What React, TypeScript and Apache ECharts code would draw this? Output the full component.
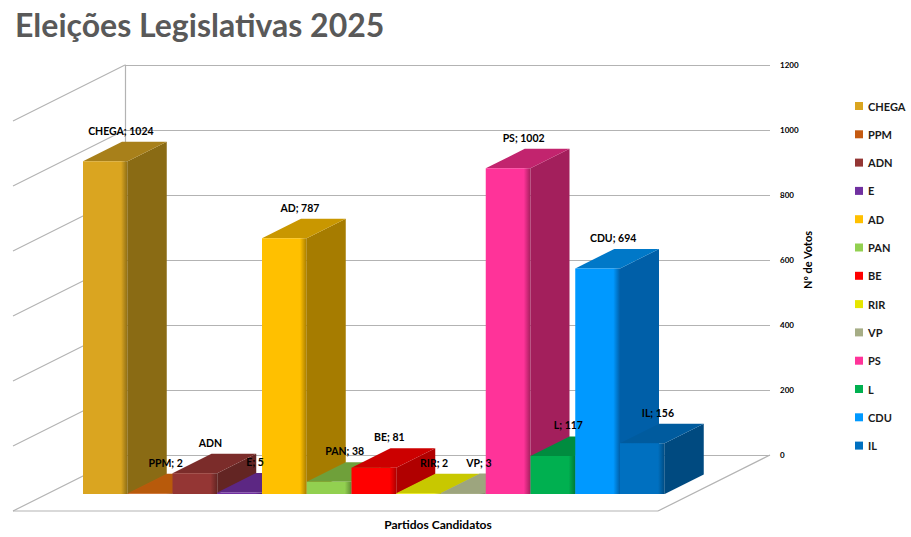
import React, { useEffect, useRef } from "react";
import * as echarts from "echarts";

const categories = ["CHEGA", "PPM", "ADN", "E", "AD", "PAN", "BE", "RIR", "VP", "PS", "L", "CDU", "IL"];
const votes = [1024, 2, 64, 5, 787, 38, 81, 2, 3, 1002, 117, 694, 156];
const showValue = [true, true, false, true, true, true, true, true, true, true, true, true, true];
const yTicks = [0, 200, 400, 600, 800, 1000, 1200];

const frontColors = ["#DAA520", "#C55A11", "#943634", "#7030A0", "#FFC000", "#92D050", "#FF0000", "#E6E600", "#A6AD86", "#FF3399", "#00B050", "#0099FF", "#0070C0"];
const sideColors = ["#8A6B14", "#8C3E08", "#632523", "#4B2069", "#A67C00", "#5F8A33", "#B00000", "#A3A300", "#858C69", "#A31F5C", "#007A37", "#005FA8", "#004A80"];
const topColors = ["#A8801A", "#B85A0B", "#7B2C2A", "#5C2783", "#C99700", "#6FA03A", "#CC0000", "#C8C800", "#9DA57E", "#C2246E", "#008C3F", "#0078C8", "#005B9E"];

const DX = 39;
const DY = -19.5;
const WDX = -112;
const WDY = 56;
const FONT = "Lato, 'Open Sans', sans-serif";

export default function App() {
  const ref = useRef<HTMLDivElement>(null);
  useEffect(() => {
    document.body.style.margin = "0";
    const chart = echarts.init(ref.current!, null, { renderer: "svg" });

    const barSeries = categories.map((name, i) => ({
      type: "custom",
      name,
      xAxisIndex: 1,
      yAxisIndex: 1,
      clip: false,
      z: 10 + i,
      itemStyle: { color: frontColors[i] },
      data: [[i, votes[i]]],
      renderItem: (params: any, api: any) => {
        const idx = api.value(0);
        const v = api.value(1);
        const p0 = api.coord([idx, 0]);
        const p1 = api.coord([idx, v]);
        const w = api.size([1, 0])[0];
        const xl = p0[0] - w / 2;
        const xr = p0[0] + w / 2;
        const yb = p0[1];
        const yt = p1[1];
        return {
          type: "group",
          children: [
            {
              type: "polygon",
              shape: { points: [[xr, yt], [xr + DX, yt + DY], [xr + DX, yb + DY], [xr, yb]] },
              style: { fill: sideColors[i] },
            },
            {
              type: "polygon",
              shape: { points: [[xl, yt], [xl + DX, yt + DY], [xr + DX, yt + DY], [xr, yt]] },
              style: { fill: topColors[i] },
            },
            {
              type: "polygon",
              shape: { points: [[xl, yt], [xr, yt], [xr, yb], [xl, yb]] },
              style: {
                fill: {
                  type: "linear", x: 0, y: 0, x2: 1, y2: 0,
                  colorStops: [
                    { offset: 0, color: frontColors[i] },
                    { offset: 0.85, color: frontColors[i] },
                    { offset: 1, color: sideColors[i] },
                  ],
                },
              },
            },
          ],
        };
      },
    }));

    const labelSeries = {
      type: "custom",
      name: "labels",
      xAxisIndex: 1,
      yAxisIndex: 1,
      clip: false,
      z: 50,
      data: categories.map((c, i) => [i, votes[i]]),
      renderItem: (params: any, api: any) => {
        const idx = api.value(0);
        const v = api.value(1);
        const p0 = api.coord([idx, 0]);
        const p1 = api.coord([idx, v]);
        const text = showValue[idx] ? categories[idx] + "; " + votes[idx] : categories[idx];
        return {
          type: "text",
          x: p0[0] + DX / 2 - 4,
          y: p1[1] + DY - 11,
          style: {
            text,
            fill: "#000",
            font: "bold 10.5px " + FONT,
            align: "center",
            verticalAlign: "middle",
          },
        };
      },
    };

    const wallSeries = {
      type: "custom",
      name: "walls",
      xAxisIndex: 0,
      yAxisIndex: 0,
      clip: false,
      z: 1,
      silent: true,
      data: yTicks.map((t) => [0, t]),
      renderItem: (params: any, api: any) => {
        const v = api.value(1);
        const a = api.coord([0, v]);
        const lineStyle = { stroke: "#B3B3B3", lineWidth: 1.2 };
        const children: any[] = [
          { type: "line", shape: { x1: a[0], y1: a[1], x2: a[0] + WDX, y2: a[1] + WDY }, style: lineStyle },
        ];
        if (v === 0) {
          const b = api.coord([1, 0]);
          children.push({ type: "line", shape: { x1: a[0] + WDX, y1: a[1] + WDY, x2: b[0] + WDX, y2: b[1] + WDY }, style: lineStyle });
          children.push({ type: "line", shape: { x1: b[0], y1: b[1], x2: b[0] + WDX, y2: b[1] + WDY }, style: lineStyle });
        }
        return { type: "group", children };
      },
    };

    chart.setOption({
      animation: false,
      backgroundColor: "#fff",
      title: {
        text: "Eleições Legislativas 2025",
        left: 10,
        top: 3,
        textStyle: { fontFamily: FONT, fontWeight: "bold", fontSize: 32, color: "#595959" },
      },
      legend: {
        orient: "vertical",
        left: 850,
        top: 94,
        itemWidth: 8,
        itemHeight: 8,
        itemGap: 14.3,
        icon: "rect",
        data: categories,
        textStyle: { fontFamily: FONT, fontWeight: "bold", fontSize: 11, color: "#1a1a1a", lineHeight: 14 },
      },
      graphic: [
        {
          type: "text",
          x: 438,
          y: 524,
          style: { text: "Partidos Candidatos", font: "bold 12px " + FONT, fill: "#000", align: "center", verticalAlign: "middle" },
        },
      ],
      grid: [
        { left: 125, right: 141, top: 65, bottom: 82 },
        { left: 83, width: 581.75, top: 104, bottom: 43 },
      ],
      xAxis: [
        { type: "value", gridIndex: 0, min: 0, max: 1, show: false },
        { type: "category", gridIndex: 1, data: categories, show: false },
      ],
      yAxis: [
        {
          type: "value",
          gridIndex: 0,
          position: "right",
          min: 0,
          max: 1200,
          interval: 200,
          name: "Nº de Votos",
          nameLocation: "middle",
          nameRotate: 90,
          nameGap: 32,
          nameMoveOverlap: false,
          nameTextStyle: { fontFamily: FONT, fontWeight: "bold", fontSize: 11, color: "#000" },
          axisLine: { show: true, lineStyle: { color: "#B3B3B3", width: 1.2 } },
          axisTick: { show: true, length: 5, lineStyle: { color: "#B3B3B3" } },
          axisLabel: { margin: 10, fontFamily: FONT, fontWeight: "bold", fontSize: 8, color: "#000", formatter: (v: number) => String(v) },
          splitLine: { show: true, lineStyle: { color: "#B3B3B3", width: 1.2 } },
        },
        { type: "value", gridIndex: 1, min: 0, max: 1200, show: false },
      ],
      series: [wallSeries, ...barSeries, labelSeries],
    });
    return () => chart.dispose();
  }, []);
  return <div ref={ref} style={{ width: 911, height: 537 }} />;
}
